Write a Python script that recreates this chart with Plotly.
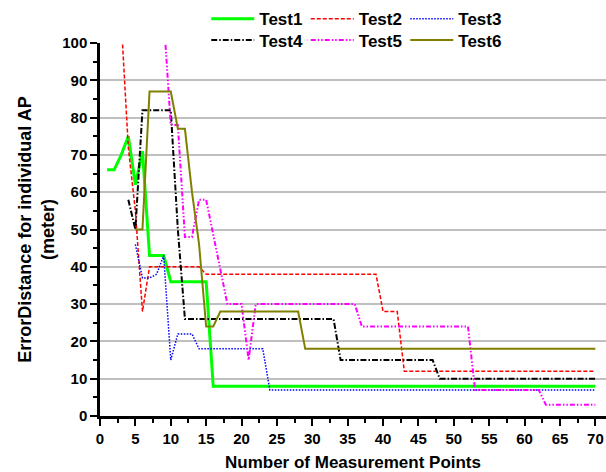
import plotly.graph_objects as go

# Measurement-point counts and error distance (meter) for each test run
test1_x = [1, 2, 3, 4, 5, 6, 7, 8, 9, 10, 15, 16, 70]
test1_y = [66, 66, 70, 75, 62, 71, 43, 43, 43, 36, 36, 8, 8]

test2_x = [3, 4, 5, 6, 7, 14, 15, 39, 40, 42, 43, 70]
test2_y = [106, 72, 55, 28, 40, 40, 38, 38, 28, 28, 12, 12]

test3_x = [5, 6, 7, 8, 9, 10, 11, 13, 14, 23, 24, 70]
test3_y = [46, 37, 37, 38, 43, 15, 22, 22, 18, 18, 7, 7]

test4_x = [4, 5, 6, 10, 11, 12, 33, 34, 47, 48, 70]
test4_y = [58, 50, 82, 82, 50, 26, 26, 15, 15, 10, 10]

test5_x = [9, 10, 11, 12, 13, 14, 15, 18, 20, 21, 22, 36, 37, 52, 53, 62, 63, 70]
test5_y = [107, 78, 78, 48, 48, 58, 58, 30, 30, 15, 30, 30, 24, 24, 7, 7, 3, 3]

test6_x = [5, 6, 7, 10, 11, 12, 13, 14, 15, 16, 17, 28, 29, 70]
test6_y = [50, 50, 87, 87, 77, 77, 60, 46, 24, 24, 28, 28, 18, 18]

x_ticks = list(range(0, 71, 5))
y_ticks = list(range(0, 101, 10))

FONT = "Liberation Sans, Arial, sans-serif"

# (name, x, y, line style, legend row)
series = [
    ("Test1", test1_x, test1_y, dict(color="#00ff00", width=3, dash="solid"), "legend"),
    ("Test2", test2_x, test2_y, dict(color="#ff0000", width=1.5, dash="4px,2px"), "legend"),
    ("Test3", test3_x, test3_y, dict(color="#0000ff", width=1.5, dash="1.5px,1.5px"), "legend"),
    ("Test4", test4_x, test4_y, dict(color="#000000", width=2, dash="6px,2px,1.5px,2px"), "legend2"),
    ("Test5", test5_x, test5_y, dict(color="#ff00ff", width=2, dash="5px,2px,1.5px,2px,1.5px,2px"), "legend2"),
    ("Test6", test6_x, test6_y, dict(color="#808000", width=2, dash="solid"), "legend2"),
]

fig = go.Figure()
for name, xs, ys, line, leg in series:
    fig.add_trace(go.Scatter(x=xs, y=ys, mode="lines", name=name, line=line, legend=leg))

axis_common = dict(
    showline=True, linecolor="black", linewidth=2.5,
    ticks="outside", ticklen=7, tickwidth=2, tickcolor="black",
    tickfont=dict(family=FONT, size=15, color="black", weight="bold"),
    zeroline=False,
)

fig.update_xaxes(
    range=[0, 71.5], tickvals=x_ticks, showgrid=False,
    minor=dict(dtick=2.5, tick0=0, ticks="outside", ticklen=4, tickwidth=2, tickcolor="black"),
    title=dict(text="Number of Measurement Points",
               font=dict(family=FONT, size=17, color="black", weight="bold"), standoff=14),
    **axis_common,
)
fig.update_yaxes(
    range=[0, 100], tickvals=y_ticks,
    showgrid=True, gridcolor="#c0c0c0", gridwidth=1.5,
    minor=dict(dtick=5, tick0=0, ticks="outside", ticklen=4, tickwidth=2, tickcolor="black", showgrid=False),
    title=dict(text="ErrorDistance for individual AP<br>(meter)",
               font=dict(family=FONT, size=18, color="black", weight="bold"), standoff=3),
    **axis_common,
)

legend_common = dict(
    orientation="h", xanchor="left", yanchor="middle",
    entrywidth=41.5, itemwidth=43, traceorder="normal",
    font=dict(family=FONT, size=17, color="black", weight="bold"),
    bgcolor="rgba(0,0,0,0)",
)

fig.update_layout(
    width=606, height=472,
    margin=dict(l=100, r=0, t=43, b=56, autoexpand=False),
    paper_bgcolor="white", plot_bgcolor="white",
    font=dict(family=FONT, color="black"),
    showlegend=True,
    legend=dict(x=0.21, y=1.064, **legend_common),
    legend2=dict(x=0.21, y=1.007, **legend_common),
)

fig.write_html("out.html")
